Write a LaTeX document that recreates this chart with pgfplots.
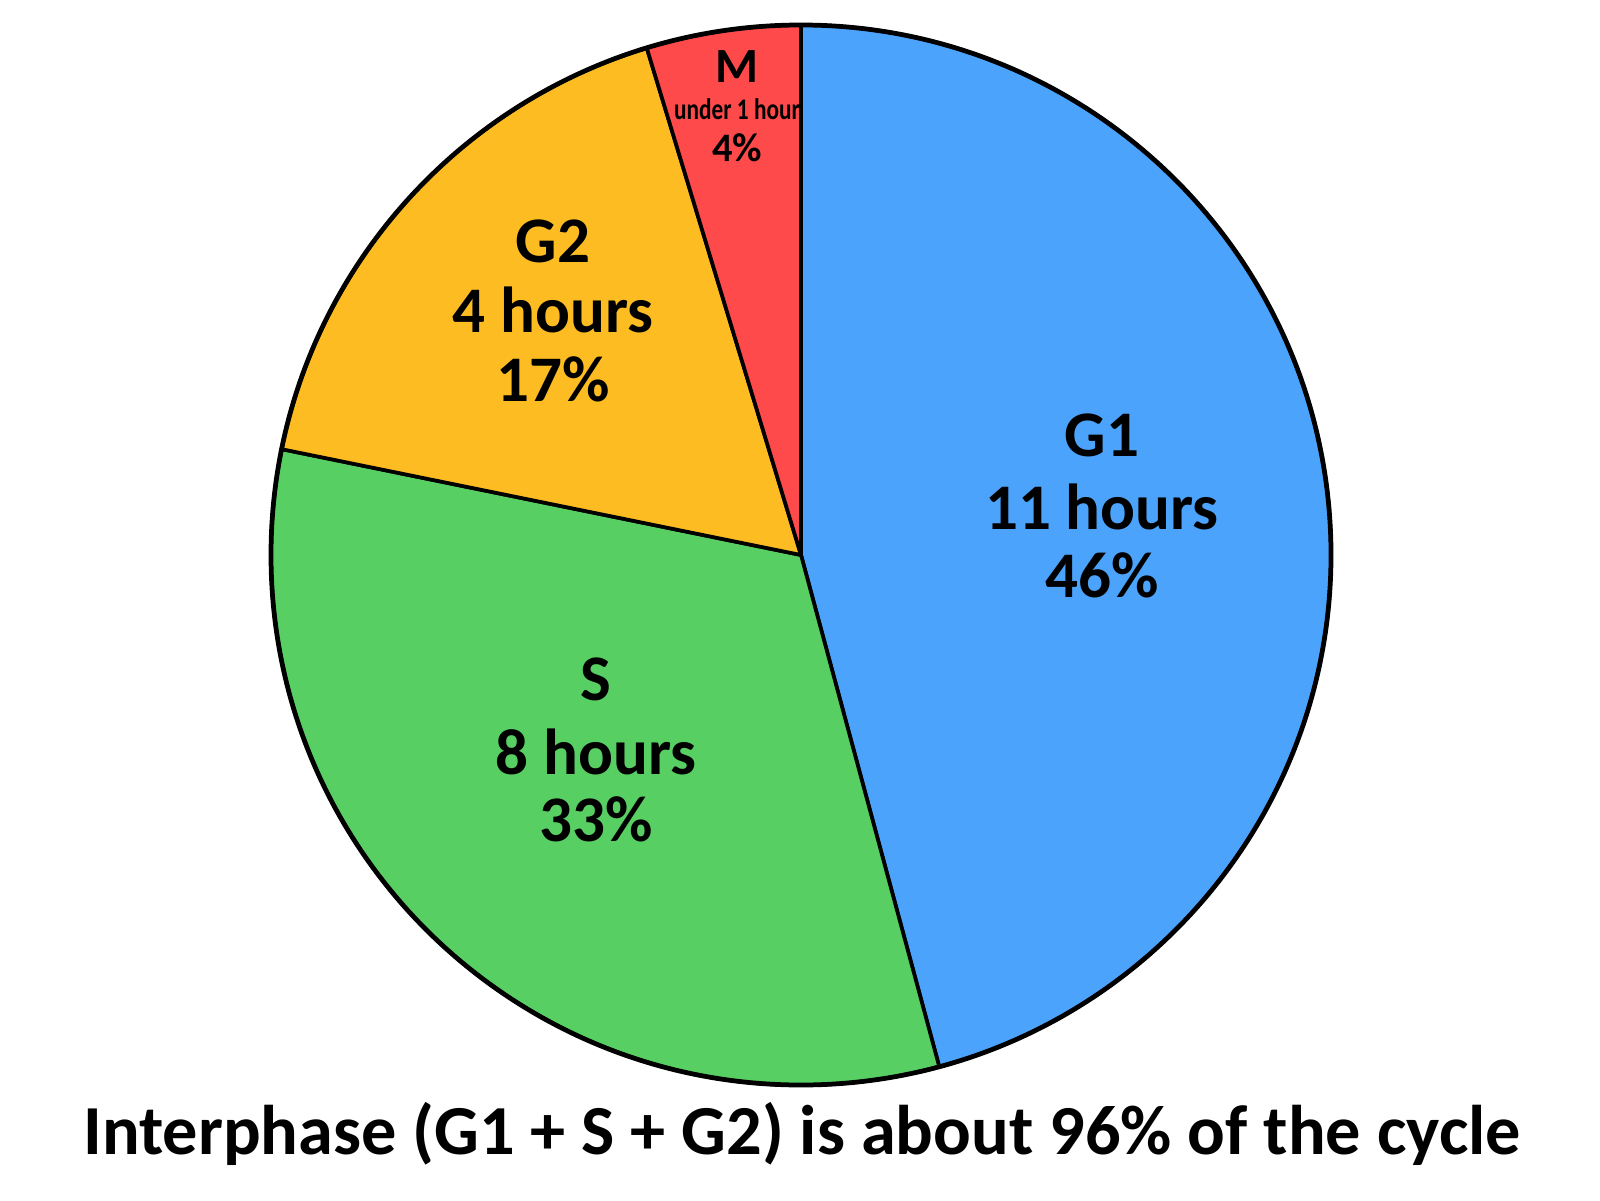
\documentclass[border=0pt]{standalone}
\usepackage{pgfplots}
\usepackage{pgfplotstable}
\pgfplotsset{compat=1.18}
\usepackage{fontspec}
\setmainfont{Carlito}
\definecolor{cGone}{HTML}{4BA3FB}
\definecolor{cS}{HTML}{58CF63}
\definecolor{cGtwo}{HTML}{FDBD22}
\definecolor{cM}{HTML}{FF4A4C}
\pgfplotstableread{
phase pct
G1 45.8
S 32.4
G2 17.1
M 4.7
}\piedata
\newcommand\lab[4]{\node[anchor=base,inner sep=0pt,font=\bfseries\fontsize{#3}{#3}\selectfont] at (axis cs:#1,{1200-#2}) {#4};}
\begin{document}
\begin{tikzpicture}
\begin{axis}[scale only axis, width=16cm, height=12cm,
  xmin=0, xmax=1600, ymin=0, ymax=1200, hide axis, clip=false]
\pgfplotsextra{%
  \path (axis cs:0,0) rectangle (axis cs:1600,1200);
  \gdef\pieStart{90}%
  \foreach \i/\col in {0/cGone,1/cS,2/cGtwo,3/cM}{%
    \pgfplotstablegetelem{\i}{pct}\of\piedata
    \pgfmathsetmacro\pieEnd{\pieStart-3.6*\pgfplotsretval}%
    \filldraw[fill=\col, draw=black, line width=1.05pt, line join=round]
      (axis cs:801,645) -- ++(\pieStart:5.30cm)
      arc[start angle=\pieStart, end angle=\pieEnd, radius=5.30cm] -- cycle;
    \xdef\pieStart{\pieEnd}%
  }%
  \draw[black, line width=1.35pt] (axis cs:801,645) circle[radius=5.30cm];
}
\lab{1102}{456}{18.5}{G1}
\lab{1102}{529}{18.5}{11 hours}
\lab{1102}{597}{18.5}{46\%}
\lab{553}{263}{18.5}{G2}
\lab{553}{332}{18.5}{4 hours}
\lab{553}{401}{18.5}{17\%}
\lab{596}{700}{18.5}{S}
\lab{596}{774}{18.5}{8 hours}
\lab{596}{841}{18.5}{33\%}
\lab{737}{83}{14}{M}
\lab{737}{120}{8.5}{\scalebox{0.78}[1]{under 1 hour}}
\lab{737}{162}{11.5}{4\%}
\lab{802}{1154}{20}{Interphase (G1 + S + G2) is about 96\% of the cycle}
\end{axis}
\end{tikzpicture}
\end{document}
